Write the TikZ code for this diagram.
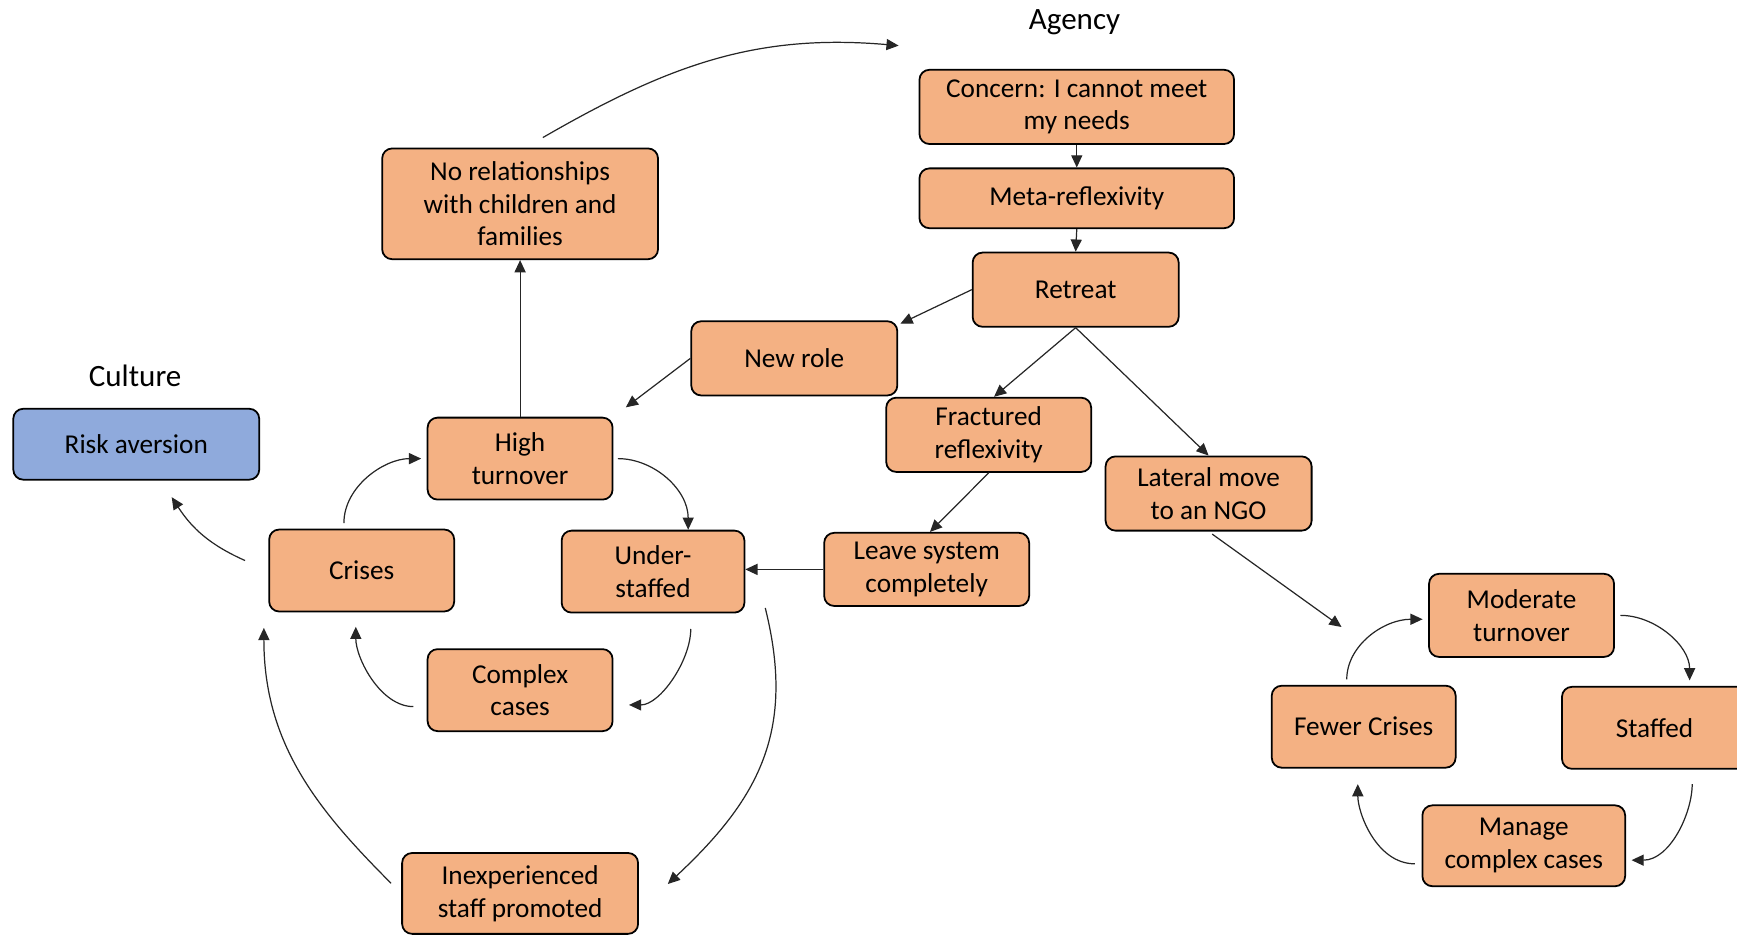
\documentclass[tikz,border=0pt]{standalone}
\usepackage{fontspec}
\setmainfont{Carlito}
\usetikzlibrary{arrows.meta}
\definecolor{peach}{HTML}{F4B183}
\definecolor{riskblue}{HTML}{8FAADC}
\begin{document}
\begin{tikzpicture}[x=0.5pt,y=-0.5pt,
  box/.style={draw=black, line width=0.8pt, rounded corners=4.5pt, fill=peach,
    align=center, inner sep=0pt, font=\fontsize{12.3pt}{14.8pt}\selectfont},
  title/.style={inner sep=0pt, font=\fontsize{14pt}{16pt}\selectfont},
  conn/.style={draw=black!85, line width=0.55pt, -{Triangle[length=5.5pt,width=5pt]}},
]
\useasboundingbox (0,0) rectangle (1568,844);

% headings
\node[title] (agency) at (970,20) {Agency};
\node[title] (culture) at (122,339) {Culture};

% agency chain
\node[box, minimum width=142pt, minimum height=33.5pt] (concern) at (972,96.5) {Concern: I cannot meet\\my needs};
\node[box, minimum width=142pt, minimum height=27pt] (meta) at (972,179) {Meta-reflexivity};
\node[box, minimum width=93pt, minimum height=33.5pt] (retreat) at (971,261.5) {Retreat};
\node[box, minimum width=93pt, minimum height=33.5pt] (newrole) at (717,323.5) {New role};
\node[box, minimum width=92.5pt, minimum height=33.5pt] (fract) at (892.5,392.5) {Fractured\\reflexivity};
\node[box, minimum width=93pt, minimum height=33.5pt] (lateral) at (1091,445.5) {Lateral move\\to an NGO};
\node[box, minimum width=92.5pt, minimum height=33pt] (leave) at (836.5,514) {Leave system\\completely};

% culture cycle
\node[box, minimum width=124.5pt, minimum height=50pt] (norel) at (469.5,184) {No relationships\\with children and\\families};
\node[box, fill=riskblue, minimum width=111pt, minimum height=32pt] (risk) at (123,401) {Risk aversion};
\node[box, minimum width=83.5pt, minimum height=37pt] (high) at (469.5,414) {High\\turnover};
\node[box, minimum width=83.5pt, minimum height=37pt] (crises) at (326.5,515) {Crises};
\node[box, minimum width=82.5pt, minimum height=37pt] (under) at (589.5,516) {Under-\\staffed};
\node[box, minimum width=83.5pt, minimum height=37pt] (complex) at (469.5,623) {Complex\\cases};
\node[box, minimum width=106.5pt, minimum height=36.5pt] (inexp) at (469.5,806.5) {Inexperienced\\staff promoted};

% NGO cycle
\node[box, minimum width=83.5pt, minimum height=37.5pt] (moderate) at (1373.5,555.5) {Moderate\\turnover};
\node[box, minimum width=83pt, minimum height=37pt] (fewer) at (1231,656) {Fewer Crises};
\node[box, minimum width=83.5pt, minimum height=37pt] (staffed) at (1493.5,657) {Staffed};
\node[box, minimum width=91.5pt, minimum height=36.5pt] (manage) at (1375.5,763.5) {Manage\\complex cases};

\coordinate (ngoend) at (1211,566);

% connectors
\draw[conn] ([shift={(20.5,-9)}]norel.north) to[out=30,in=175] ([shift={(-18,-21)}]concern.north west);
\draw[conn] (concern.south) -- (meta.north);
\draw[conn] (meta.south) -- (retreat.north);
\draw[conn] (retreat.west) -- ([shift={(2,3)}]newrole.north east);
\draw[conn] (retreat.south) -- (fract.82);
\draw[conn] (retreat.south) -- (lateral.north);
\draw[conn, shorten >=7pt] (newrole.west) -- (high.north east);
\draw[conn] (high.north) -- (norel.south);
\draw[conn] (fract.south) -- (leave.85);
\draw[conn] (leave.west) -- (leave.west -| under.east);
\draw[conn, shorten <=2pt] (lateral.south) -- (ngoend);

\draw[conn, shorten <=2pt] (high.east) to[out=0,in=90] (under.50);
\draw[conn, shorten <=2.5pt, shorten >=2.5pt] (crises.113) to[out=90,in=180] (high.west);
\draw[conn, shorten <=7pt, shorten >=7pt] (under.-48) to[out=-90,in=0] (complex.-9);
\draw[conn, shorten <=6pt, shorten >=6.5pt] (complex.190) to[out=180,in=-90] (crises.-98);
\draw[conn] ([shift={(18,-5)}]under.south east) to[out=-76,in=43,looseness=1.1] ([shift={(26,-8.5)}]inexp.east);
\draw[conn, shorten <=6.5pt] (inexp.west) to[out=135,in=-90] ([shift={(-4,14)}]crises.south west);
\draw[conn] ([shift={(-21,-9)}]crises.west) to[out=156,in=-57] ([shift={(32,15)}]risk.south);

\draw[conn, shorten <=2.5pt] (fewer.112) to[out=90,in=180] ([shift={(-5,3.5)}]moderate.west);
\draw[conn, shorten <=2.5pt, shorten >=2.5pt] (moderate.east) to[out=0,in=90] (staffed.50);
\draw[conn, shorten <=6.5pt, shorten >=2.5pt] (staffed.-48) to[out=-90,in=0] (manage.-8);
\draw[conn, shorten <=3pt, shorten >=7pt] (manage.190) to[out=180,in=-90] (fewer.-98);
\end{tikzpicture}
\end{document}
